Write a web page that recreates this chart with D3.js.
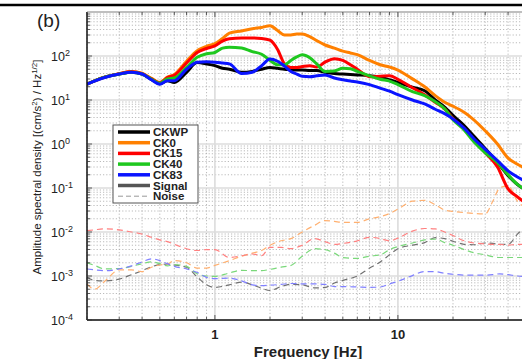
<!DOCTYPE html>
<html>
<head>
<meta charset="utf-8">
<script src="https://cdn.jsdelivr.net/npm/d3@7/dist/d3.min.js"></script>
<style>
  body { margin: 0; background: #fff; }
  svg { display: block; font-family: "Liberation Sans", Arial, sans-serif; }
  .legend text { font-weight: bold; font-size: 11.5px; }
</style>
</head>
<body>
<div id="chart"></div>
<script>
// frequency grid for the station spectra (Hz)
var sigFreq = [0.2, 0.25, 0.3, 0.35, 0.4, 0.45, 0.5, 0.55, 0.6, 0.7, 0.8, 0.9, 1.0, 1.1, 1.2, 1.4, 1.6, 1.8,
  2.0, 2.2, 2.4, 2.6, 2.8, 3.0, 3.3, 3.6, 4.0, 4.5, 5.0, 5.5, 6.0, 7.0, 8.0, 9.0, 10, 12, 14, 16, 18, 20,
  23, 26, 30, 35, 40, 45, 50];

// log10 of amplitude spectral density
var ckwp = [1.36, 1.52, 1.59, 1.63, 1.59, 1.47, 1.37, 1.44, 1.40, 1.63, 1.85, 1.82, 1.78, 1.72, 1.70, 1.63, 1.65, 1.70,
  1.74, 1.72, 1.70, 1.69, 1.68, 1.68, 1.67, 1.67, 1.63, 1.60, 1.59, 1.58, 1.57, 1.55, 1.52, 1.46, 1.40, 1.29, 1.21, 1.00, 0.84, 0.65,
  0.42, 0.18, -0.10, -0.42, -0.72, -0.92, -1.05];
var ck0 = [1.36, 1.52, 1.60, 1.65, 1.61, 1.49, 1.40, 1.52, 1.58, 1.88, 2.12, 2.22, 2.28, 2.40, 2.52, 2.57, 2.62, 2.65,
  2.69, 2.58, 2.48, 2.48, 2.50, 2.50, 2.44, 2.35, 2.25, 2.18, 2.11, 2.07, 2.03, 1.90, 1.80, 1.75, 1.68, 1.48, 1.30, 1.10, 0.95, 0.86,
  0.72, 0.55, 0.30, 0.00, -0.32, -0.46, -0.56];
var ck15 = [1.36, 1.52, 1.60, 1.64, 1.60, 1.48, 1.39, 1.51, 1.56, 1.84, 2.08, 2.17, 2.23, 2.34, 2.39, 2.41, 2.41, 2.40,
  2.36, 2.15, 1.82, 1.74, 1.74, 1.76, 1.78, 1.75, 1.86, 1.94, 1.90, 1.80, 1.70, 1.53, 1.54, 1.55, 1.47, 1.28, 1.12, 0.95, 0.80, 0.58,
  0.35, 0.09, -0.20, -0.52, -1.02, -1.20, -1.35];
var ck40 = [1.36, 1.52, 1.59, 1.63, 1.59, 1.47, 1.38, 1.48, 1.50, 1.74, 1.97, 2.05, 2.08, 2.18, 2.20, 2.18, 2.10, 2.04,
  1.90, 1.80, 1.80, 1.90, 1.98, 2.03, 1.96, 1.82, 1.65, 1.66, 1.72, 1.71, 1.65, 1.55, 1.47, 1.43, 1.35, 1.19, 1.10, 0.96, 0.80, 0.55,
  0.32, 0.05, -0.20, -0.42, -0.70, -0.92, -1.05];
var ck83 = [1.36, 1.51, 1.59, 1.63, 1.59, 1.46, 1.36, 1.44, 1.44, 1.70, 1.86, 1.87, 1.86, 1.84, 1.82, 1.60, 1.63, 1.78,
  1.93, 1.88, 1.77, 1.65, 1.59, 1.54, 1.53, 1.55, 1.57, 1.50, 1.46, 1.43, 1.41, 1.35, 1.27, 1.20, 1.12, 1.00, 0.91, 0.79, 0.69, 0.57,
  0.36, 0.12, -0.12, -0.38, -0.61, -0.75, -0.85];

// frequency grid for the noise spectra (Hz)
var noiseFreq = [0.2, 0.22, 0.25, 0.3, 0.35, 0.4, 0.45, 0.5, 0.55, 0.6, 0.7, 0.8, 0.9, 1.0, 1.2, 1.4, 1.6, 1.8, 2.0,
  2.3, 2.6, 3.0, 3.5, 4, 4.5, 5, 6, 7, 8, 9, 10, 12, 14, 16, 18, 20, 23, 26, 30, 33, 36, 40, 45, 50];

var ckwpNoise = [-3.03, -3.10, -3.11, -3.07, -2.97, -2.88, -2.79, -2.74, -2.73, -2.75, -2.80, -3.02, -3.20, -3.26, -3.20,
  -3.14, -3.20, -3.28, -3.33, -3.24, -3.19, -3.20, -3.27, -3.26, -3.16, -3.10, -3.00, -2.82, -2.68, -2.52, -2.38, -2.30,
  -2.24, -2.13, -2.15, -2.21, -2.28, -2.29, -2.25, -2.26, -2.28, -2.28, -2.05, -1.85];
var ck0Noise = [-3.18, -3.30, -3.12, -2.86, -2.86, -2.90, -2.80, -2.75, -2.73, -2.65, -2.70, -2.82, -2.82, -2.76, -2.65,
  -2.55, -2.48, -2.42, -2.30, -2.20, -2.15, -2.00, -1.85, -1.74, -1.76, -1.78, -1.78, -1.70, -1.65, -1.58, -1.48, -1.30,
  -1.28, -1.38, -1.50, -1.53, -1.56, -1.58, -1.59, -1.30, -1.00, -0.95, -1.30, -1.45];
var ck15Noise = [-1.97, -1.95, -1.93, -1.95, -2.00, -2.05, -2.12, -2.18, -2.22, -2.28, -2.38, -2.42, -2.40, -2.40, -2.58,
  -2.54, -2.50, -2.54, -2.35, -2.35, -2.38, -2.30, -2.15, -2.22, -2.28, -2.26, -2.20, -2.12, -2.15, -2.20, -2.14, -1.98,
  -1.92, -1.93, -2.00, -2.08, -2.20, -2.25, -2.27, -2.28, -2.28, -2.30, -2.28, -2.28];
var ck40Noise = [-2.70, -2.76, -2.84, -2.83, -2.78, -2.72, -2.68, -2.72, -2.77, -2.74, -2.78, -2.95, -3.00, -3.01, -2.93,
  -2.87, -2.88, -2.88, -2.85, -2.80, -2.76, -2.55, -2.38, -2.40, -2.48, -2.58, -2.60, -2.55, -2.52, -2.40, -2.33, -2.25,
  -2.18, -2.16, -2.24, -2.30, -2.40, -2.47, -2.52, -2.56, -2.58, -2.58, -2.58, -2.58];
var ck83Noise = [-2.84, -2.86, -2.88, -2.84, -2.77, -2.68, -2.61, -2.65, -2.72, -2.78, -2.84, -2.92, -3.03, -3.06, -3.05,
  -3.11, -3.20, -3.22, -3.21, -3.19, -3.17, -3.18, -3.18, -3.19, -3.24, -3.24, -3.25, -3.26, -3.25, -3.18, -3.12, -2.99,
  -2.90, -2.90, -2.94, -2.96, -2.98, -2.98, -2.98, -2.97, -2.95, -2.97, -3.00, -3.01];

var stations = ["CKWP", "CK0", "CK15", "CK40", "CK83"];
var sigColors = ["#000000", "#ff8000", "#ff0000", "#1ec81e", "#0a14ff"];
var noiseColors = ["#707070", "#ffb070", "#ff8080", "#7ad87a", "#8080ff"];
var yTickExp = [-4, -3, -2, -1, 0, 1, 2];
var xTickVals = [1, 10];

var WIDTH = 522, HEIGHT = 359;
var MARGINS = { top: 12, bottom: 320, left: 87 };

var svg = d3.select("#chart").append("svg")
    .attr("width", WIDTH).attr("height", HEIGHT);

var xScale = d3.scaleLog().domain([0.2, 100]).range([MARGINS.left, MARGINS.left + 183 * Math.log10(500)]);
var yScale = d3.scaleLog().domain([1e-4, 1e3]).range([MARGINS.bottom, MARGINS.top]);
var xRight = WIDTH + 5;

// figure border line at the very top
svg.append("line").attr("x1", 0).attr("x2", WIDTH).attr("y1", 5).attr("y2", 5)
    .attr("stroke", "#000").attr("stroke-width", 2.5);

var grid = svg.append("g").attr("class", "grid");

// minor grid (dotted)
var xMinor = [];
[0.1, 1, 10].forEach(function(dec) {
  for (var k = 2; k <= 9; k++) {
    var v = dec * k;
    if (v >= 0.2 && v <= 100) xMinor.push(v);
  }
});
var yMinor = [];
for (var e = -4; e < 3; e++) {
  for (var k = 2; k <= 9; k++) yMinor.push(k * Math.pow(10, e));
}

grid.selectAll(".xminor").data(xMinor).enter().append("line")
    .attr("x1", function(d) { return xScale(d); }).attr("x2", function(d) { return xScale(d); })
    .attr("y1", MARGINS.top).attr("y2", MARGINS.bottom)
    .attr("stroke", "#aaa").attr("stroke-width", 0.8).attr("stroke-dasharray", "1.2,2");
grid.selectAll(".yminor").data(yMinor).enter().append("line")
    .attr("y1", function(d) { return yScale(d); }).attr("y2", function(d) { return yScale(d); })
    .attr("x1", MARGINS.left).attr("x2", xRight)
    .attr("stroke", "#aaa").attr("stroke-width", 0.8).attr("stroke-dasharray", "1.2,2");

// major grid (solid light)
grid.selectAll(".xmajor").data(xTickVals).enter().append("line")
    .attr("x1", function(d) { return xScale(d); }).attr("x2", function(d) { return xScale(d); })
    .attr("y1", MARGINS.top).attr("y2", MARGINS.bottom)
    .attr("stroke", "#dcdcdc").attr("stroke-width", 1.6);
grid.selectAll(".ymajor").data(yTickExp.concat([3])).enter().append("line")
    .attr("y1", function(d) { return yScale(Math.pow(10, d)); }).attr("y2", function(d) { return yScale(Math.pow(10, d)); })
    .attr("x1", MARGINS.left).attr("x2", xRight)
    .attr("stroke", "#dcdcdc").attr("stroke-width", 1.6);

// clip for curves
svg.append("defs").append("clipPath").attr("id", "clip").append("rect")
    .attr("x", MARGINS.left).attr("y", MARGINS.top)
    .attr("width", xRight - MARGINS.left).attr("height", MARGINS.bottom - MARGINS.top);

var chartBody = svg.append("g").attr("clip-path", "url(#clip)");

function makeLine(freqs) {
  return d3.line()
      .curve(d3.curveMonotoneX)
      .x(function(d, i) { return xScale(freqs[i]); })
      .y(function(d) { return yScale(Math.pow(10, d)); });
}

var noiseSeries = [ckwpNoise, ck0Noise, ck15Noise, ck40Noise, ck83Noise];
var sigSeries = [ckwp, ck0, ck15, ck40, ck83];

noiseSeries.forEach(function(s, i) {
  chartBody.append("path").attr("d", makeLine(noiseFreq)(s))
      .attr("fill", "none").attr("stroke", noiseColors[i])
      .attr("stroke-width", 1.2).attr("stroke-dasharray", "6,4");
});
sigSeries.forEach(function(s, i) {
  chartBody.append("path").attr("d", makeLine(sigFreq)(s))
      .attr("fill", "none").attr("stroke", sigColors[i])
      .attr("stroke-width", 3).attr("stroke-linejoin", "round");
});

// axes frame
svg.append("line").attr("x1", MARGINS.left).attr("x2", MARGINS.left)
    .attr("y1", MARGINS.top).attr("y2", MARGINS.bottom).attr("stroke", "#111").attr("stroke-width", 1.5);
svg.append("line").attr("x1", MARGINS.left).attr("x2", xRight)
    .attr("y1", MARGINS.bottom).attr("y2", MARGINS.bottom).attr("stroke", "#111").attr("stroke-width", 1.5);
svg.append("line").attr("x1", MARGINS.left).attr("x2", xRight)
    .attr("y1", MARGINS.top).attr("y2", MARGINS.top).attr("stroke", "#999").attr("stroke-width", 1);

// inner ticks
var ticks = svg.append("g").attr("stroke", "#333").attr("stroke-width", 0.8);
xMinor.concat(xTickVals).forEach(function(v) {
  var len = xTickVals.indexOf(v) >= 0 ? 5 : 3;
  ticks.append("line").attr("x1", xScale(v)).attr("x2", xScale(v))
      .attr("y1", MARGINS.bottom).attr("y2", MARGINS.bottom - len);
  ticks.append("line").attr("x1", xScale(v)).attr("x2", xScale(v))
      .attr("y1", MARGINS.top).attr("y2", MARGINS.top + len);
});
yMinor.concat(yTickExp.map(function(e) { return Math.pow(10, e); })).forEach(function(v) {
  var len = (Math.log10(v) % 1 === 0) ? 5 : 3;
  ticks.append("line").attr("y1", yScale(v)).attr("y2", yScale(v))
      .attr("x1", MARGINS.left).attr("x2", MARGINS.left + len);
});

// y tick labels 10^n (left aligned, as in the figure)
var yLab = svg.append("g").selectAll("text").data(yTickExp).enter().append("text")
    .attr("x", 51).attr("y", function(d) { return yScale(Math.pow(10, d)) + 5; })
    .attr("text-anchor", "start").attr("font-size", 12.5).attr("fill", "#222");
yLab.append("tspan").text("10");
yLab.append("tspan").attr("dy", -5).attr("font-size", 9).text(function(d) { return d < 0 ? "-" + (-d) : d; });

// x tick labels
svg.append("g").selectAll("text").data(xTickVals).enter().append("text")
    .attr("x", function(d) { return xScale(d); }).attr("y", 339)
    .attr("text-anchor", "middle").attr("font-size", 13).attr("font-weight", "bold").attr("fill", "#222")
    .text(function(d) { return d; });

// axis titles
svg.append("text").attr("x", 308).attr("y", 357).attr("text-anchor", "middle")
    .attr("font-size", 15).attr("font-weight", "bold").attr("fill", "#222").text("Frequency [Hz]");

var yt = svg.append("text").attr("transform", "translate(41,167) rotate(-90)")
    .attr("text-anchor", "middle").attr("font-size", 11.5).attr("fill", "#222");
yt.append("tspan").text("Amplitude spectral density [(cm/s");
yt.append("tspan").attr("dy", -4).attr("font-size", 8).text("2");
yt.append("tspan").attr("dy", 4).text(") / Hz");
yt.append("tspan").attr("dy", -4).attr("font-size", 8).text("1/2");
yt.append("tspan").attr("dy", 4).text("]");

svg.append("text").attr("x", 37).attr("y", 27).attr("font-size", 19).attr("fill", "#222").text("(b)");

// legend
var legend = svg.append("g").attr("class", "legend");
legend.append("rect").attr("x", 113).attr("y", 125).attr("width", 85).attr("height", 78)
    .attr("fill", "#fff").attr("stroke", "#555").attr("stroke-width", 1);
var legItems = stations.map(function(s, i) {
  return { label: s, color: sigColors[i], width: 3.5, dash: null };
});
legItems.push({ label: "Signal", color: "#555", width: 3.5, dash: null });
legItems.push({ label: "Noise", color: "#999", width: 1, dash: "5,3" });
legItems.forEach(function(d, i) {
  var y = 132 + i * 10.7;
  legend.append("line").attr("x1", 118).attr("x2", 150).attr("y1", y).attr("y2", y)
      .attr("stroke", d.color).attr("stroke-width", d.width)
      .attr("stroke-dasharray", d.dash);
  legend.append("text").attr("x", 153).attr("y", y + 4).attr("fill", "#222").text(d.label);
});
</script>
</body>
</html>
